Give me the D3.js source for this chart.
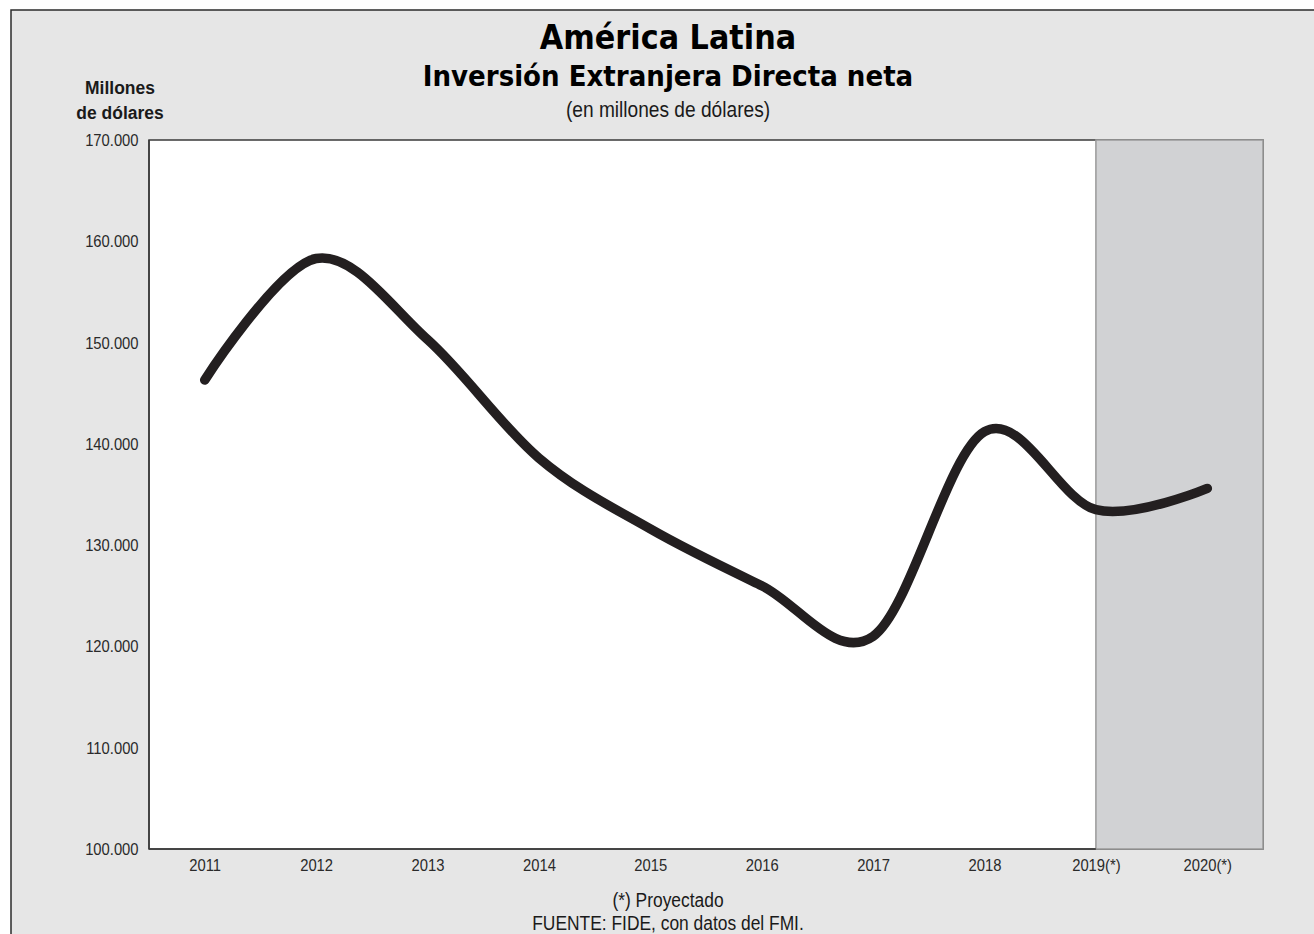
<!DOCTYPE html>
<html>
<head>
<meta charset="utf-8">
<script src="https://cdn.jsdelivr.net/npm/d3@7"></script>
<style>
  html, body { margin: 0; padding: 0; background: #ffffff; }
  svg { display: block; }
  .narrow { font-family: "Liberation Sans", Arial, sans-serif; }
  .title { font-family: "DejaVu Sans Condensed", "DejaVu Sans", sans-serif; font-weight: bold; font-stretch: condensed; }
</style>
</head>
<body>
<svg id="chart" width="1314" height="934"></svg>
<script>
// Inversión Extranjera Directa neta, América Latina (millones de dólares)
const years = ["2011", "2012", "2013", "2014", "2015", "2016", "2017", "2018", "2019(*)", "2020(*)"];
const values = [146300, 158300, 150300, 138600, 131600, 126000, 121000, 141200, 133500, 135600];
const projected = ["2019(*)", "2020(*)"];
const yTicks = [100000, 110000, 120000, 130000, 140000, 150000, 160000, 170000];

const svg = d3.select("#chart");
const W = 1314, H = 934;
const plot = { left: 149, right: 1263, top: 140, bottom: 849 };
const NARROW = 0.87; // horizontal squeeze for condensed labels

// outer panel (open on the right and bottom edges of the page)
svg.append("rect")
  .attr("x", 11).attr("y", 10).attr("width", W + 20).attr("height", H + 20)
  .attr("fill", "#e6e6e6").attr("stroke", "#2b2b2b").attr("stroke-width", 1.5);

const x = d3.scalePoint().domain(years).range([plot.left, plot.right]).padding(0.5);
const y = d3.scaleLinear().domain([100000, 170000]).range([plot.bottom, plot.top]);

// plot background
svg.append("rect")
  .attr("x", plot.left).attr("y", plot.top)
  .attr("width", plot.right - plot.left).attr("height", plot.bottom - plot.top)
  .attr("fill", "#ffffff").attr("stroke", "#3a3a3a").attr("stroke-width", 1.5);

// projection band, starting at the first projected year
const x0 = x(projected[0]);
svg.append("rect")
  .attr("x", x0).attr("y", plot.top)
  .attr("width", plot.right - x0).attr("height", plot.bottom - plot.top)
  .attr("fill", "#d1d2d4").attr("stroke", "#9a9a9a").attr("stroke-width", 1.5);

// left and bottom axis lines over the white area
svg.append("line")
  .attr("x1", plot.left).attr("x2", plot.left).attr("y1", plot.top).attr("y2", plot.bottom)
  .attr("stroke", "#3a3a3a").attr("stroke-width", 1.5);
svg.append("line")
  .attr("x1", plot.left).attr("x2", x0).attr("y1", plot.bottom).attr("y2", plot.bottom)
  .attr("stroke", "#3a3a3a").attr("stroke-width", 1.5);

const fmt = v => d3.format(",")(v).replace(/,/g, ".");

// y axis
const yAxis = svg.append("g")
  .attr("transform", `translate(${plot.left},0)`)
  .call(d3.axisLeft(y).tickValues(yTicks).tickSize(0).tickPadding(12).tickFormat(fmt));
yAxis.select(".domain").remove();
yAxis.selectAll("text")
  .attr("class", "narrow").attr("font-size", 17).attr("fill", "#2a2a2a")
  .attr("transform", `scale(${NARROW},1)`);

// x axis
const xAxis = svg.append("g")
  .attr("transform", `translate(0,${plot.bottom})`)
  .call(d3.axisBottom(x).tickSize(0).tickPadding(10));
xAxis.select(".domain").remove();
xAxis.selectAll("text")
  .attr("class", "narrow").attr("font-size", 17).attr("fill", "#2a2a2a")
  .attr("transform", `scale(${NARROW},1)`);

// series line
const line = d3.line()
  .x((d, i) => x(years[i]))
  .y(d => y(d))
  .curve(d3.curveCardinal.tension(0));
svg.append("path")
  .datum(values)
  .attr("d", line)
  .attr("fill", "none")
  .attr("stroke", "#231f20")
  .attr("stroke-width", 9.5)
  .attr("stroke-linecap", "round")
  .attr("stroke-linejoin", "round");

// condensed text helper
function label(px, py, txt, size, opts = {}) {
  const g = svg.append("g").attr("transform", `translate(${px},${py}) scale(${opts.sx ?? NARROW},1)`);
  return g.append("text")
    .attr("class", opts.cls ?? "narrow")
    .attr("text-anchor", "middle")
    .attr("font-size", size)
    .attr("font-weight", opts.weight ?? "normal")
    .attr("fill", opts.fill ?? "#1a1a1a")
    .text(txt);
}

// titles
const cx = 668;
label(cx, 49, "América Latina", 33, { cls: "title", sx: 1.02, fill: "#000" });
label(cx, 86, "Inversión Extranjera Directa neta", 29, { cls: "title", sx: 1.0, fill: "#000" });
label(cx, 117, "(en millones de dólares)", 22);

// y axis unit label
label(120, 94, "Millones", 19, { weight: "bold", sx: 0.92 });
label(120, 119, "de dólares", 19, { weight: "bold", sx: 0.92 });

// footnotes
label(cx, 907, "(*) Proyectado", 20);
label(cx, 930, "FUENTE: FIDE, con datos del FMI.", 20);
</script>
</body>
</html>
